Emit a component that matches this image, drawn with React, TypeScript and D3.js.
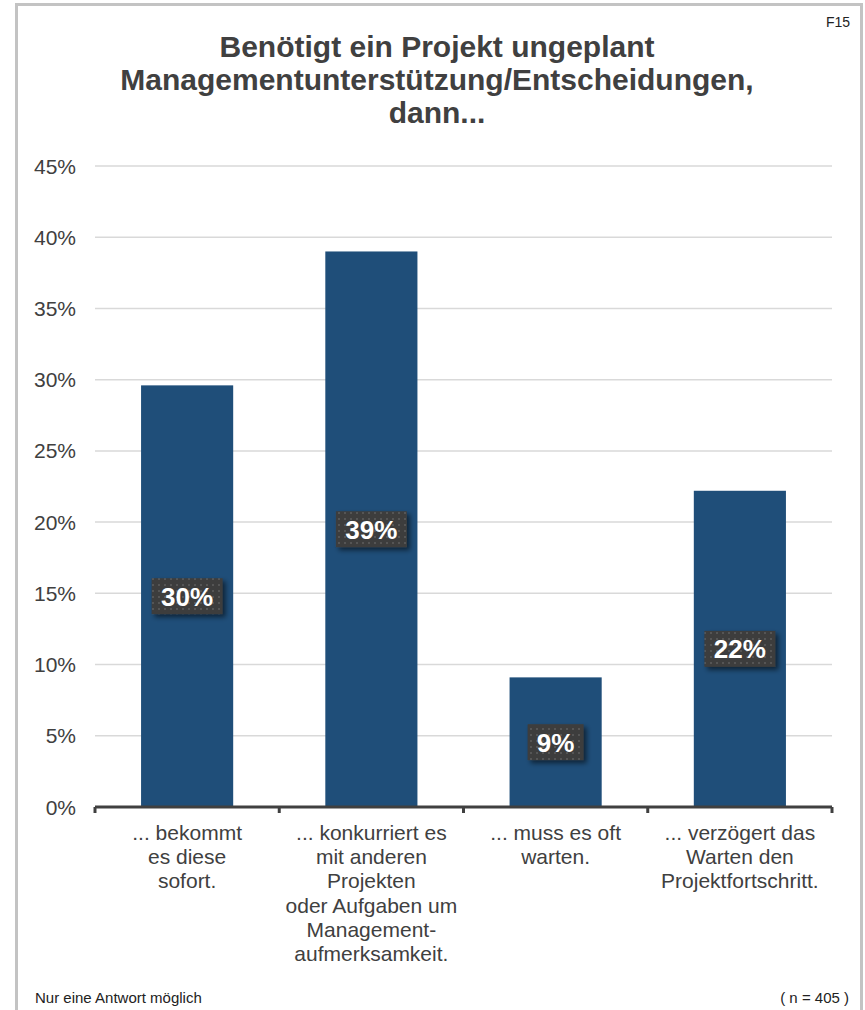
import React from "react"
import * as d3 from "d3"

const categories = [
  ["... bekommt", "es diese", "sofort."],
  ["... konkurriert es", "mit anderen", "Projekten", "oder Aufgaben um", "Management-", "aufmerksamkeit."],
  ["... muss es oft", "warten."],
  ["... verzögert das", "Warten den", "Projektfortschritt."],
]
const values = [29.6, 39.0, 9.1, 22.2]
const valueLabels = ["30%", "39%", "9%", "22%"]
const yTicks = [0, 5, 10, 15, 20, 25, 30, 35, 40, 45]
const titleLines = ["Benötigt ein Projekt ungeplant", "Managementunterstützung/Entscheidungen,", "dann..."]

const width = 865
const height = 1010
const left = 95
const right = 832
const top = 166
const bottom = 807
const font = "'Liberation Sans', Arial, sans-serif"
const textColor = "#404040"

export default function App() {
  const x = d3
    .scaleBand<number>()
    .domain(categories.map((_, i) => i))
    .range([left, right])
    .paddingInner(0.5)
    .paddingOuter(0.25)
  const y = d3.scaleLinear().domain([0, 45]).range([bottom, top])
  const step = (right - left) / categories.length
  const tickXs = d3.range(categories.length + 1).map((i) => left + i * step)

  return (
    <svg
      width={width}
      height={height}
      style={{ position: "absolute", left: 0, top: 0, background: "#fff" }}
      fontFamily={font}
    >
      <defs>
        <pattern id="dots" width="6" height="6" patternUnits="userSpaceOnUse">
          <rect width="6" height="6" fill="#3d3d3d" />
          <rect x="2" y="2" width="2" height="2" fill="#555" />
        </pattern>
        <filter id="shadow" x="-20%" y="-20%" width="150%" height="160%">
          <feDropShadow dx="3" dy="3" stdDeviation="2.5" floodColor="#000" floodOpacity="0.55" />
        </filter>
      </defs>
      <rect width={width} height={height} fill="#fff" />
      {/* frame, open at the bottom */}
      <path d={`M16.5,${height} V4.5 H861.5 V${height}`} fill="none" stroke="#c3c3c3" strokeWidth={3} />

      <text x={850} y={27} textAnchor="end" fontSize={14} fill="#222">F15</text>
      {titleLines.map((t, i) => (
        <text key={i} x={437} y={57 + i * 33} textAnchor="middle" fontSize={30} fontWeight="bold" fill={textColor}>
          {t}
        </text>
      ))}

      {yTicks.map((t) => (
        <g key={t}>
          {t > 0 && <line x1={left} x2={right} y1={y(t)} y2={y(t)} stroke="#d9d9d9" strokeWidth={1.5} />}
          <text x={76} y={y(t) + 7.5} textAnchor="end" fontSize={21} fill={textColor}>
            {t}%
          </text>
        </g>
      ))}

      {values.map((v, i) => (
        <rect key={i} x={x(i)} y={y(v)} width={x.bandwidth()} height={bottom - y(v)} fill="#1f4e79" />
      ))}

      <line x1={left} x2={right} y1={bottom} y2={bottom} stroke="#404040" strokeWidth={3} />
      {tickXs.map((tx, i) => (
        <line key={i} x1={tx} x2={tx} y1={bottom} y2={bottom + 6} stroke="#404040" strokeWidth={3} />
      ))}

      {values.map((v, i) => {
        const cx = x(i)! + x.bandwidth() / 2
        const cy = (y(v) + bottom) / 2
        const w = valueLabels[i].length === 2 ? 56 : 71
        return (
          <g key={i}>
            <rect x={cx - w / 2} y={cy - 18} width={w} height={36} fill="url(#dots)" filter="url(#shadow)" />
            <text x={cx} y={cy + 9.5} textAnchor="middle" fontSize={26} fontWeight="bold" fill="#fff">
              {valueLabels[i]}
            </text>
          </g>
        )
      })}

      {categories.map((lines, i) => (
        <text key={i} textAnchor="middle" fontSize={21} fill={textColor}>
          {lines.map((l, j) => (
            <tspan key={j} x={x(i)! + x.bandwidth() / 2} y={840 + j * 24.2}>
              {l}
            </tspan>
          ))}
        </text>
      ))}

      <text x={35} y={1003} fontSize={15} fill="#222">Nur eine Antwort möglich</text>
      <text x={849} y={1003} textAnchor="end" fontSize={15} fill="#222">( n = 405 )</text>
    </svg>
  )
}
